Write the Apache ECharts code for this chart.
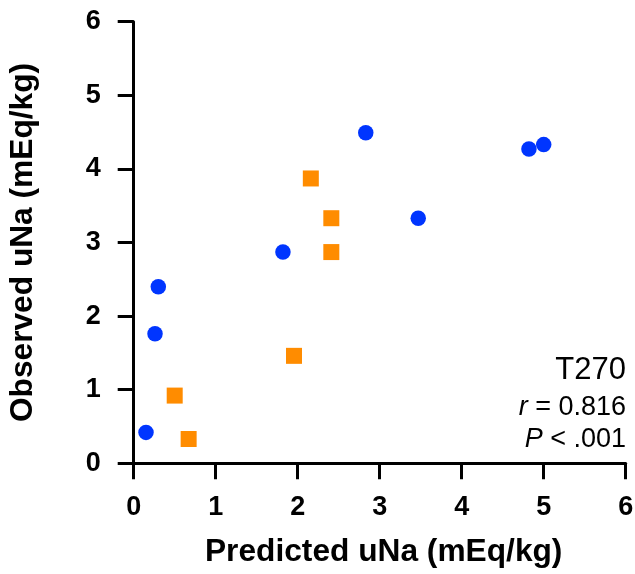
<!DOCTYPE html>
<html>
<head>
<meta charset="utf-8">
<script src="https://cdn.jsdelivr.net/npm/echarts@6/dist/echarts.min.js"></script>
<style>
  html, body { margin: 0; padding: 0; background: #fff; }
  #chart { width: 635px; height: 574px; }
</style>
</head>
<body>
<div id="chart"></div>
<script>
// Two groups of predicted vs observed urinary sodium
const groupAPredicted = [0.15, 0.26, 0.30, 1.82, 2.83, 3.47, 4.82, 5.00];
const groupAObserved  = [0.42, 1.76, 2.40, 2.87, 4.49, 3.33, 4.27, 4.33];
const groupBPredicted = [0.50, 0.67, 1.955, 2.16, 2.41, 2.41];
const groupBObserved  = [0.92, 0.33, 1.46, 3.87, 3.33, 2.87];
const axisTicks = [0, 1, 2, 3, 4, 5, 6];
const xTitle = 'Predicted uNa (mEq/kg)';
const yTitle = 'Observed uNa (mEq/kg)';
const panelLabel = 'T270';
const rValue = '0.816';
const pValue = '.001';

const FONT = '"Liberation Sans", Arial, Helvetica, sans-serif';

function pairs(xs, ys) {
  return xs.map((x, i) => [x, ys[i]]);
}

const chart = echarts.init(document.getElementById('chart'), null, { renderer: 'canvas' });

chart.setOption({
  animation: false,
  backgroundColor: '#fff',
  grid: {
    left: 133.7, right: 9.3, top: 21.7, bottom: 110.7,
    containLabel: false, outerBoundsMode: 'none'
  },
  xAxis: {
    type: 'value',
    min: axisTicks[0],
    max: axisTicks[axisTicks.length - 1],
    interval: 1,
    name: xTitle,
    nameLocation: 'middle',
    nameGap: 73,
    nameMoveOverlap: false,
    nameTextStyle: {
      fontFamily: FONT, fontWeight: 'bold', fontSize: 31.7, color: '#000',
      padding: [0, 0, 0, 8]
    },
    axisLine: { show: true, lineStyle: { color: '#000', width: 3 } },
    axisTick: { show: true, inside: false, length: 16, lineStyle: { color: '#000', width: 3 } },
    axisLabel: { margin: 31, fontFamily: FONT, fontWeight: 'bold', fontSize: 27, color: '#000' },
    splitLine: { show: false }
  },
  yAxis: {
    type: 'value',
    min: axisTicks[0],
    max: axisTicks[axisTicks.length - 1],
    interval: 1,
    name: yTitle,
    nameLocation: 'middle',
    nameGap: 94,
    nameRotate: 90,
    nameMoveOverlap: false,
    nameTextStyle: { fontFamily: FONT, fontWeight: 'bold', fontSize: 31.7, color: '#000' },
    axisLine: { show: true, lineStyle: { color: '#000', width: 3 } },
    axisTick: { show: true, inside: false, length: 16, lineStyle: { color: '#000', width: 3 } },
    axisLabel: { margin: 33, fontFamily: FONT, fontWeight: 'bold', fontSize: 27, color: '#000' },
    splitLine: { show: false }
  },
  series: [
    {
      type: 'scatter',
      data: pairs(groupAPredicted, groupAObserved),
      symbol: 'circle',
      symbolSize: 15.5,
      itemStyle: { color: '#0035FF', opacity: 1 }
    },
    {
      type: 'scatter',
      data: pairs(groupBPredicted, groupBObserved),
      symbol: 'rect',
      symbolSize: 16,
      itemStyle: { color: '#FF8C00', opacity: 1 }
    }
  ],
  graphic: [
    {
      type: 'text',
      x: 626, y: 386,
      style: {
        text: panelLabel,
        align: 'right', verticalAlign: 'bottom',
        font: '31px ' + FONT, fill: '#000'
      }
    },
    {
      type: 'text',
      x: 626, y: 421,
      style: {
        text: '{i|r} = ' + rValue,
        align: 'right', verticalAlign: 'bottom',
        font: '27px ' + FONT, fill: '#000',
        rich: { i: { fontStyle: 'italic', fontSize: 27, fontFamily: FONT, fill: '#000' } }
      }
    },
    {
      type: 'text',
      x: 626, y: 453,
      style: {
        text: '{i|P} < ' + pValue,
        align: 'right', verticalAlign: 'bottom',
        font: '27px ' + FONT, fill: '#000',
        rich: { i: { fontStyle: 'italic', fontSize: 27, fontFamily: FONT, fill: '#000' } }
      }
    }
  ]
});
</script>
</body>
</html>
